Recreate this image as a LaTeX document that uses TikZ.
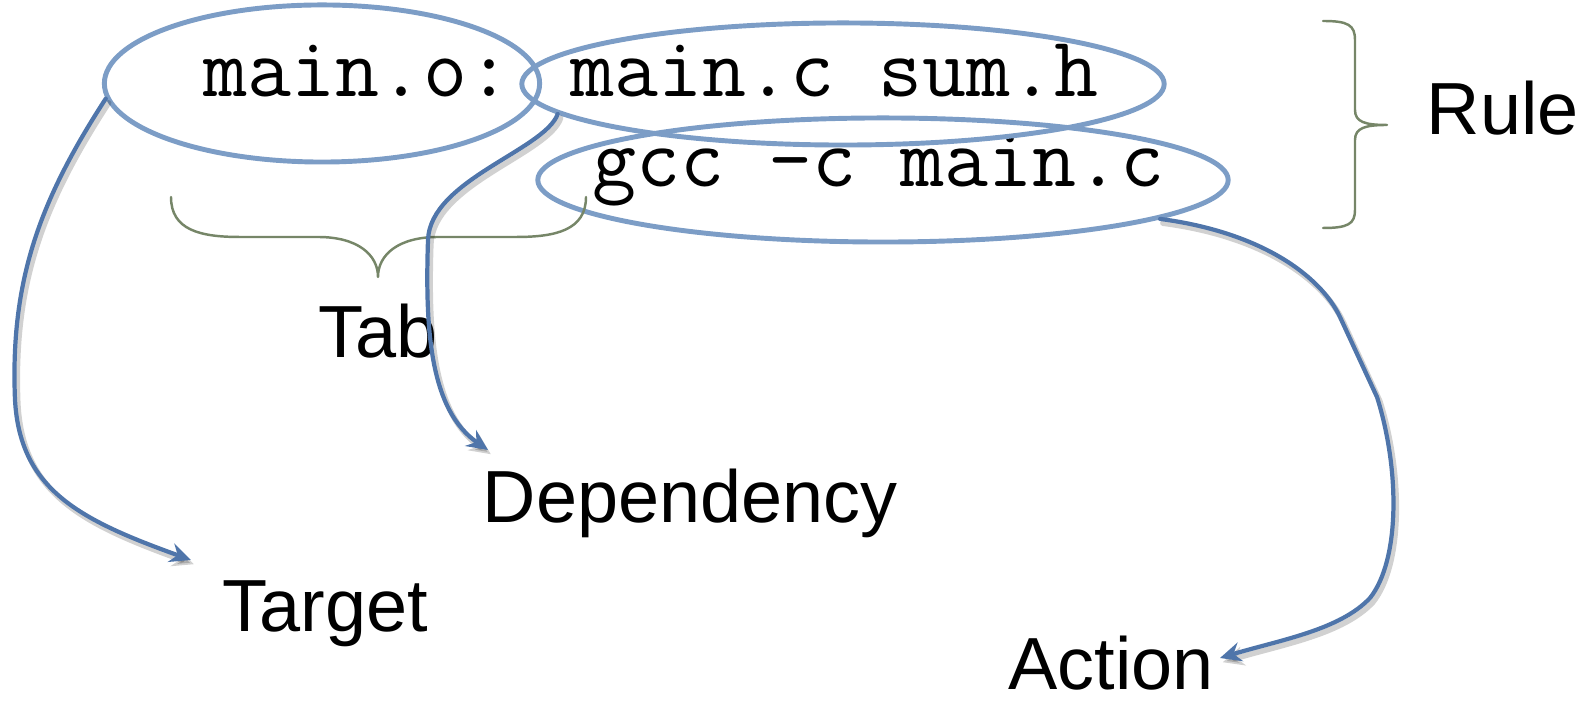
\documentclass[tikz,border=0pt]{standalone}
\usepackage{fontspec}
\setmainfont{Liberation Sans}
\usetikzlibrary{arrows.meta, shapes.geometric}

\definecolor{ringblue}{RGB}{124,157,198}
\definecolor{arrowblue}{RGB}{79,117,170}
\definecolor{braceolive}{RGB}{118,134,104}

\begin{document}
\begin{tikzpicture}[x=0.01cm, y=-0.01cm, line join=round, line cap=round,
    ring/.style={ellipse, draw=ringblue, line width=1.4pt, inner sep=0pt},
    pointer/.style={draw=arrowblue, line width=1.2pt,
        -{Stealth[length=6pt, width=5.5pt, inset=2pt]},
        preaction={draw=black, opacity=0.18, line width=1.6pt,
            transform canvas={shift={(0.8pt,-1.2pt)}}}},
    bracket/.style={draw=braceolive, line width=0.7pt},
    code/.style={font=\ttfamily\fontsize{24.3}{28}\selectfont, inner sep=0pt, anchor=base west},
    word/.style={font=\fontsize{21}{24}\selectfont, inner sep=0pt, anchor=base west}]

    % 1. Frame
    \useasboundingbox (0,0) rectangle (1581,701);

    % 2. Make rule text
    \node[code] (ruleLine) at (203,97) {main.o: main.c sum.h};
    \node[code] (cmdLine) at (592,187) {gcc \textendash c main.c};

    % 3. Rings round the parts
    \node[ring, minimum width=4.35cm, minimum height=1.57cm] (ringTarget) at (322,83.5) {};
    \node[ring, minimum width=6.42cm, minimum height=1.22cm] (ringDeps) at (843,84) {};
    \node[ring, minimum width=6.9cm, minimum height=1.24cm] (ringCmd) at (883,180) {};

    % 4. Labels
    \node[word] (tab) at (318,358) {Tab};
    \node[word] (target) at (222,632) {Target};
    \node[word] (dependency) at (482,523) {Dependency};
    \node[word] (action) at (1008,690) {Action};
    \node[word] (rule) at (1426,135) {Rule};

    % arrow tips
    \coordinate (targetTip) at (191,560);
    \coordinate (depTip) at (488,450);
    \coordinate (actionTip) at (1220,658);

    % 5. Braces
    \draw[bracket] (171,197) .. controls (171,230) and (200,237) .. (240,237) -- (318,237)
        .. controls (358,237) and (378,255) .. (378,277)
        .. controls (378,255) and (398,237) .. (438,237) -- (516,237)
        .. controls (556,237) and (586,230) .. (586,197);
    \draw[bracket] (1323,21) .. controls (1348,21) and (1355,25) .. (1355,40) -- (1355,110)
        .. controls (1355,122) and (1365,125) .. (1387,125)
        .. controls (1365,125) and (1355,128) .. (1355,140) -- (1355,210)
        .. controls (1355,224) and (1348,228) .. (1323,228);

    % 6. Arrows
    \draw[pointer] (ringTarget.184) .. controls (40,200) and (10,280) .. (15,400)
        .. controls (20,490) and (80,520) .. (targetTip);
    \draw[pointer] (ringDeps.186.5) .. controls (545,150) and (430,180) .. (428,240)
        .. controls (425,330) and (430,410) .. (depTip);
    \draw[pointer] (ringCmd.-8) .. controls (1260,232) and (1320,275) .. (1340,317) -- (1377,397)
        .. controls (1400,470) and (1400,560) .. (1370,598)
        .. controls (1340,630) and (1280,640) .. (actionTip);
\end{tikzpicture}
\end{document}
